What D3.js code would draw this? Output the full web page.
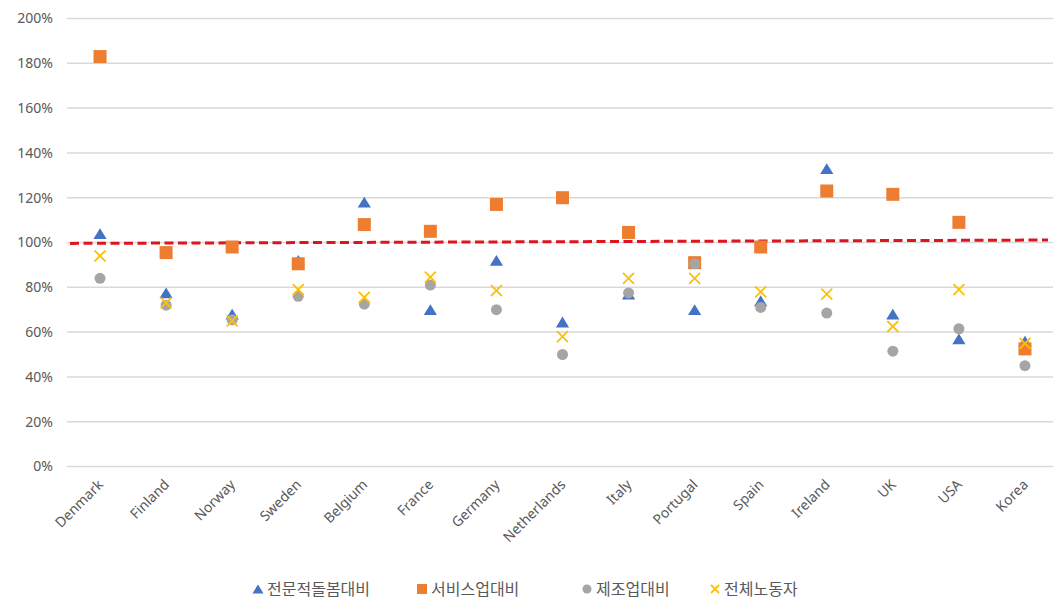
<!DOCTYPE html>
<html lang="ko">
<head>
<meta charset="utf-8">
<title>돌봄노동자 임금 비교</title>
<script src="https://cdn.jsdelivr.net/npm/d3@7"></script>
<style>
  html, body { margin: 0; padding: 0; background: #ffffff; }
  svg { display: block; font-family: "Noto Sans", "Noto Sans CJK KR", sans-serif; }
</style>
</head>
<body>
<svg id="chart" width="1053" height="599"></svg>
<script>
// Countries on the horizontal axis
const countries = ["Denmark", "Finland", "Norway", "Sweden", "Belgium", "France", "Germany",
  "Netherlands", "Italy", "Portugal", "Spain", "Ireland", "UK", "USA", "Korea"];

// Care-worker wages relative to each comparison group
const professionalCare = [1.04, 0.775, 0.68, 0.92, 1.18, 0.70, 0.92, 0.645, 0.77, 0.70, 0.74, 1.33, 0.68, 0.57, 0.56];
const serviceSector    = [1.83, 0.955, 0.98, 0.905, 1.08, 1.05, 1.17, 1.20, 1.045, 0.91, 0.98, 1.23, 1.215, 1.09, 0.525];
const manufacturing    = [0.84, 0.72, 0.655, 0.76, 0.725, 0.81, 0.70, 0.50, 0.775, 0.905, 0.71, 0.685, 0.515, 0.615, 0.45];
const allWorkers       = [0.94, 0.73, 0.65, 0.79, 0.755, 0.845, 0.785, 0.58, 0.84, 0.84, 0.78, 0.77, 0.625, 0.79, 0.55];

// Series names shown in the legend
const seriesNames = ["전문적돌봄대비", "서비스업대비", "제조업대비", "전체노동자"];

// Vertical axis ticks
const yTicks = [0, 0.2, 0.4, 0.6, 0.8, 1.0, 1.2, 1.4, 1.6, 1.8, 2.0];

// Hand-drawn parity line (start and end level)
const parityLine = [0.996, 1.011];

const svg = d3.select("#chart");
const W = 1053;
const plot = { left: 67, right: 1058, top: 18.5, bottom: 466.5 };

const x = d3.scaleBand().domain(countries).range([plot.left, plot.right]);
const y = d3.scaleLinear().domain([0, 2]).range([plot.bottom, plot.top]);
const cx = c => x(c) + x.bandwidth() / 2;

// Horizontal gridlines
svg.append("g")
  .selectAll("line")
  .data(yTicks)
  .join("line")
  .attr("x1", plot.left)
  .attr("x2", W)
  .attr("y1", d => y(d))
  .attr("y2", d => y(d))
  .attr("stroke", "#d9d9d9")
  .attr("stroke-width", 1.5);

// Y axis labels
const yAxis = svg.append("g")
  .attr("transform", `translate(${plot.left - 14},0)`)
  .call(d3.axisLeft(y).tickValues(yTicks).tickFormat(d3.format(".0%")).tickSize(0).tickPadding(0));
yAxis.select(".domain").remove();
yAxis.selectAll("text")
  .attr("fill", "#595959")
  .style("font-size", "14px")
  .style("font-family", "\"Noto Sans\", sans-serif");

// X axis labels, rotated
const xAxis = svg.append("g")
  .attr("transform", `translate(0,${plot.bottom})`)
  .call(d3.axisBottom(x).tickSize(0).tickPadding(0));
xAxis.select(".domain").remove();
xAxis.selectAll("text")
  .attr("fill", "#595959")
  .style("font-size", "14px")
  .style("font-family", "\"Noto Sans\", sans-serif")
  .attr("text-anchor", "end")
  .attr("dy", "0")
  .attr("transform", "translate(4,19) rotate(-45)");

// Red dashed parity line
svg.append("line")
  .attr("x1", plot.left + 3)
  .attr("x2", W - 5)
  .attr("y1", y(parityLine[0]))
  .attr("y2", y(parityLine[1]))
  .attr("stroke", "#e0141c")
  .attr("stroke-width", 3)
  .attr("stroke-dasharray", "9 4.5");

// Marker shapes
const triPath = (s) => `M0,${-s * 0.45}L${s * 0.55},${s * 0.45}L${-s * 0.55},${s * 0.45}Z`;

const marks = svg.append("g");

// Triangles: professional care comparison
marks.append("g")
  .selectAll("path")
  .data(countries.map((c, i) => ({ c, v: professionalCare[i] })))
  .join("path")
  .attr("d", triPath(12))
  .attr("transform", d => `translate(${cx(d.c)},${y(d.v)})`)
  .attr("fill", "#4472c4");

// Squares: service sector comparison
marks.append("g")
  .selectAll("rect")
  .data(countries.map((c, i) => ({ c, v: serviceSector[i] })))
  .join("rect")
  .attr("x", d => cx(d.c) - 6.5)
  .attr("y", d => y(d.v) - 6.5)
  .attr("width", 13)
  .attr("height", 13)
  .attr("fill", "#ed7d31");

// Circles: manufacturing comparison
marks.append("g")
  .selectAll("circle")
  .data(countries.map((c, i) => ({ c, v: manufacturing[i] })))
  .join("circle")
  .attr("cx", d => cx(d.c))
  .attr("cy", d => y(d.v))
  .attr("r", 5.5)
  .attr("fill", "#a5a5a5");

// Crosses: all workers
marks.append("g")
  .selectAll("path")
  .data(countries.map((c, i) => ({ c, v: allWorkers[i] })))
  .join("path")
  .attr("d", "M-5.5,-5.5L5.5,5.5M-5.5,5.5L5.5,-5.5")
  .attr("transform", d => `translate(${cx(d.c)},${y(d.v)})`)
  .attr("stroke", "#ffc000")
  .attr("stroke-width", 1.8)
  .attr("fill", "none");

// Legend
const legendX = [253, 417, 582, 710];
const legendY = 589;
const legend = svg.append("g");
seriesNames.forEach((name, i) => {
  const g = legend.append("g").attr("transform", `translate(${legendX[i]},${legendY})`);
  const mx = 5;
  if (i === 0) {
    g.append("path").attr("d", triPath(10)).attr("transform", `translate(${mx},0)`).attr("fill", "#4472c4");
  } else if (i === 1) {
    g.append("rect").attr("x", mx - 5).attr("y", -5).attr("width", 10).attr("height", 10).attr("fill", "#ed7d31");
  } else if (i === 2) {
    g.append("circle").attr("cx", mx).attr("cy", 0).attr("r", 4.5).attr("fill", "#a5a5a5");
  } else {
    g.append("path").attr("d", "M-4,-4L4,4M-4,4L4,-4").attr("transform", `translate(${mx},0)`)
      .attr("stroke", "#ffc000").attr("stroke-width", 1.8);
  }
  g.append("text")
    .attr("x", 14)
    .attr("y", 0)
    .attr("dy", "0.35em")
    .attr("fill", "#595959")
    .style("font-size", "16px")
    .style("font-family", "\"Noto Sans CJK KR\", sans-serif")
    .text(name);
});
</script>
</body>
</html>
